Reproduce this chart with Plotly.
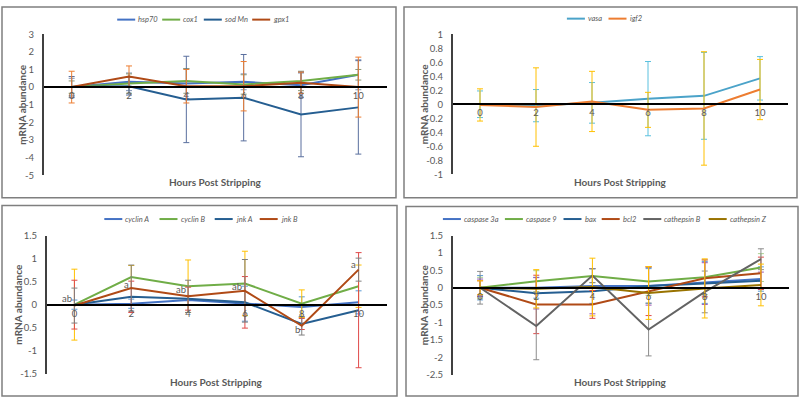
import plotly.graph_objects as go

W, H = 800, 404
FONT = "Lato"
GREY = "#595959"

hours = [0, 2, 4, 6, 8, 10]
hour_labels = ["0", "2", "4", "6", "8", "10"]

# top left: stress genes
hsp70 = [0, 0.3, 0.2, 0.3, 0.1, 0.7]
hsp70_err = [0.5, 0.5, 0.85, 0.45, 0.7, 0.85]
cox1 = [0, 0.2, 0.35, 0.15, 0.35, 0.7]
cox1_err = [0.35, 0.55, 0.7, 0.55, 0.55, 0.3]
sod_mn = [0, 0.05, -0.7, -0.6, -1.55, -1.15]
sod_mn_err = [0.6, 0.5, 2.45, 2.45, 2.4, 2.65]
gpx1 = [0, 0.6, 0.05, 0.05, 0.25, 0.0]
gpx1_err = [0.9, 0.6, 0.95, 1.4, 0.6, 1.7]
ticks_a = [3, 2, 1, 0, -1, -2, -3, -4, -5]
labels_a = ["3", "2", "1", "0", "-1", "-2", "-3", "-4", "-5"]

# top right: growth genes
vasa = [0, -0.02, 0.02, 0.08, 0.12, 0.37]
vasa_err = [0.19, 0.23, 0.29, 0.53, 0.62, 0.31]
igf2 = [-0.01, -0.04, 0.04, -0.08, -0.06, 0.21]
igf2_err = [0.23, 0.56, 0.43, 0.25, 0.81, 0.43]
ticks_b = [1, 0.8, 0.6, 0.4, 0.2, 0, -0.2, -0.4, -0.6, -0.8, -1]
labels_b = ["1", "0.8", "0.6", "0.4", "0.2", "0", "-0.2", "-0.4", "-0.6", "-0.8", "-1"]

# bottom left: cell cycle genes
cyclin_a = [0, 0.02, 0.1, 0.02, -0.05, 0.05]
cyclin_a_err = [0.1, 0.1, 0.1, 0.38, 0.22, 0.25]
cyclin_b = [0, 0.6, 0.4, 0.46, 0.02, 0.4]
cyclin_b_err = [0.77, 0.25, 0.57, 0.7, 0.3, 0.46]
jnk_a = [0, 0.17, 0.13, 0.05, -0.42, -0.12]
jnk_a_err = [0.53, 0.34, 0.25, 0.56, 0.12, 1.25]
jnk_b = [-0.02, 0.36, 0.18, 0.3, -0.46, 0.76]
jnk_b_err = [0.38, 0.5, 0.35, 0.68, 0.2, 0.25]
jnk_b_letters = ["ab", "a", "ab", "ab", "b", "a"]
ticks_c = [1.5, 1, 0.5, 0, -0.5, -1, -1.5]
labels_c = ["1.5", "1", "0.5", "0", "-0.5", "-1", "-1.5"]

# bottom right: apoptosis genes
casp3a = [0, 0.0, 0.05, 0.05, 0.15, 0.25]
casp3a_err = [0.35, 0.3, 0.5, 0.5, 0.6, 0.35]
casp9 = [0, 0.19, 0.34, 0.18, 0.3, 0.58]
casp9_err = [0.3, 0.3, 0.2, 0.4, 0.5, 0.4]
bax = [0, -0.16, -0.1, 0.05, 0.12, 0.2]
bax_err = [0.25, 0.45, 0.65, 0.55, 0.6, 0.25]
bcl2 = [0, -0.48, -0.48, -0.1, 0.27, 0.42]
bcl2_err = [0.2, 0.84, 0.4, 0.7, 0.53, 0.46]
cathb = [0, -1.1, 0.35, -1.2, -0.12, 0.82]
cathb_err = [0.47, 0.97, 0.2, 0.76, 0.6, 0.3]
cathz = [0, -0.03, 0.02, -0.15, -0.02, 0.08]
cathz_err = [0.2, 0.55, 0.83, 0.76, 0.85, 0.6]
ticks_d = [1.5, 1, 0.5, 0, -0.5, -1, -1.5, -2, -2.5]
labels_d = ["1.5", "1", "0.5", "0", "-0.5", "-1", "-1.5", "-2", "-2.5"]

panels = [
    dict(box=(2, 1, 396, 197), plot=(43, 29, 387, 174), rng=(-5, 3),
         ticks=ticks_a, labels=labels_a, legend=(201, 14), xtitle_y=181, ytitle_x=22,
         series=[("hsp70", hsp70, hsp70_err, "#4472C4", "#7F93B8"),
                 ("cox1", cox1, cox1_err, "#70AD47", "#8A9A7A"),
                 ("sod Mn", sod_mn, sod_mn_err, "#255E91", "#5A6F9E"),
                 ("gpx1", gpx1, gpx1_err, "#B04A16", "#ED7D31")]),
    dict(box=(404, 1, 797, 197), plot=(452, 29, 788, 173), rng=(-1, 1),
         ticks=ticks_b, labels=labels_b, legend=(604, 13), xtitle_y=181, ytitle_x=424,
         series=[("vasa", vasa, vasa_err, "#4BA3C9", "#5BC0DE"),
                 ("igf2", igf2, igf2_err, "#ED7D31", "#FFC000")]),
    dict(box=(2, 205, 397, 401), plot=(46, 236, 387, 378), rng=(-1.5, 1.5),
         ticks=ticks_c, labels=labels_c, legend=(200, 219), xtitle_y=387, ytitle_x=18,
         series=[("cyclin A", cyclin_a, cyclin_a_err, "#4472C4", "#5B9BD5"),
                 ("cyclin B", cyclin_b, cyclin_b_err, "#70AD47", "#FFC000"),
                 ("jnk A", jnk_a, jnk_a_err, "#255E91", "#E04A4A"),
                 ("jnk B", jnk_b, jnk_b_err, "#B04A16", "#808080")]),
    dict(box=(406, 206, 798, 401), plot=(452, 236, 789, 379), rng=(-2.5, 1.5),
         ticks=ticks_d, labels=labels_d, legend=(604, 219), xtitle_y=387, ytitle_x=424,
         series=[("caspase 3a", casp3a, casp3a_err, "#4472C4", "#5B9BD5"),
                 ("caspase 9", casp9, casp9_err, "#70AD47", "#A9D18E"),
                 ("bax", bax, bax_err, "#255E91", "#9B59B6"),
                 ("bcl2", bcl2, bcl2_err, "#B04A16", "#E04A4A"),
                 ("cathepsin B", cathb, cathb_err, "#636363", "#8C8C8C"),
                 ("cathepsin Z", cathz, cathz_err, "#997300", "#FFC000")]),
]

SAMPLE = 18      # legend line length
CHAR_W = 3.4     # rough width of one legend character
ITEM_GAP = 9


def px(x):
    return x / W


def py(y):
    return 1 - y / H


fig = go.Figure()
shapes, annotations = [], []
layout = {}

for i, p in enumerate(panels, start=1):
    sfx = "" if i == 1 else str(i)
    x0, y0, x1, y1 = p["plot"]
    ymin, ymax = p["rng"]
    ydom = [py(y1), py(y0)]
    zero_pos = ydom[0] + (0 - ymin) / (ymax - ymin) * (ydom[1] - ydom[0])

    for name, vals, err, col, ecol in p["series"]:
        fig.add_trace(go.Scatter(
            x=hours, y=vals, name=name, mode="lines",
            line=dict(color=col, width=2),
            error_y=dict(type="data", array=err, visible=True, color=ecol, thickness=1, width=3),
            xaxis="x" + sfx, yaxis="y" + sfx, showlegend=False,
        ))

    layout["xaxis" + sfx] = dict(
        domain=[px(x0), px(x1)], range=[-1, 11], anchor="free", position=zero_pos,
        tickvals=hours, ticktext=hour_labels, showline=True, linecolor="#000000", linewidth=1.5,
        showgrid=False, zeroline=False, ticks="", fixedrange=True,
        tickfont=dict(family=FONT, size=9.5, color=GREY),
    )
    layout["yaxis" + sfx] = dict(
        domain=ydom, range=[ymin, ymax], anchor="free", position=px(x0),
        tickvals=p["ticks"], ticktext=p["labels"], showline=True, linecolor="#404040", linewidth=2,
        showgrid=False, zeroline=False, ticks="", ticklabelstandoff=6, fixedrange=True,
        tickfont=dict(family=FONT, size=9.5, color=GREY),
    )

    # legend row drawn by hand so it stays as compact as the original
    widths = [SAMPLE + 1 + CHAR_W * len(s[0]) for s in p["series"]]
    total = sum(widths) + ITEM_GAP * (len(widths) - 1)
    lx = p["legend"][0] - total / 2
    ly = p["legend"][1]
    for (name, _, _, col, _), w in zip(p["series"], widths):
        shapes.append(dict(type="line", xref="paper", yref="paper", x0=px(lx), x1=px(lx + SAMPLE),
                           y0=py(ly), y1=py(ly), line=dict(color=col, width=2)))
        annotations.append(dict(text="<i>%s</i>" % name, xref="paper", yref="paper",
                                x=px(lx + SAMPLE + 1), y=py(ly), xanchor="left", yanchor="middle",
                                showarrow=False, font=dict(family=FONT, size=7.5, color=GREY)))
        lx += w + ITEM_GAP

    bx0, by0, bx1, by1 = p["box"]
    shapes.append(dict(type="rect", xref="paper", yref="paper", x0=px(bx0), x1=px(bx1),
                       y0=py(by1), y1=py(by0), line=dict(color="#7F7F7F", width=1.5)))
    annotations.append(dict(text="<b>Hours Post Stripping</b>", xref="paper", yref="paper",
                            x=px((x0 + x1) / 2), y=py(p["xtitle_y"]), showarrow=False,
                            xanchor="center", yanchor="middle",
                            font=dict(family=FONT, size=10, color=GREY)))
    annotations.append(dict(text="<b>mRNA abundance</b>", xref="paper", yref="paper", textangle=-90,
                            x=px(p["ytitle_x"]), y=py((y0 + y1) / 2), showarrow=False,
                            xanchor="center", yanchor="middle",
                            font=dict(family=FONT, size=10, color=GREY)))

# significance letters on jnk B, nudged up-left of each point like the original
shifts = [(-7, 7), (-5, 4), (-7, 7), (-8, 4), (-4, -4), (-5, 5)]
for h, v, t, (dx, dy) in zip(hours, jnk_b, jnk_b_letters, shifts):
    annotations.append(dict(text=t, x=h, y=v, xref="x3", yref="y3", showarrow=False,
                            xanchor="center", yanchor="middle", xshift=dx, yshift=dy,
                            font=dict(family=FONT, size=9.5, color=GREY)))

fig.update_layout(
    width=W, height=H, margin=dict(l=0, r=0, t=0, b=0),
    paper_bgcolor="white", plot_bgcolor="white",
    showlegend=False, shapes=shapes, annotations=annotations,
    **layout,
)

fig.write_html("out.html", config={"displayModeBar": False},
               post_script="document.body.style.margin='0';")
